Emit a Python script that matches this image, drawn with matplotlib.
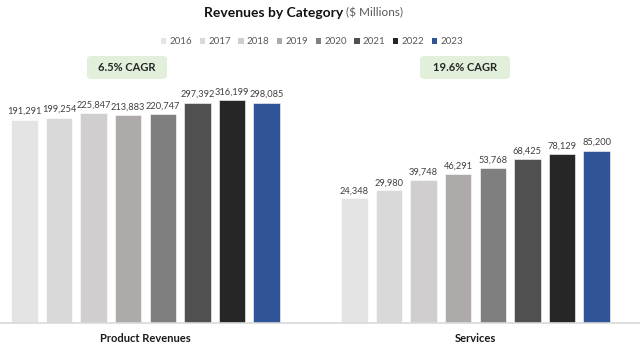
import numpy as np
import matplotlib.pyplot as plt
from matplotlib.patches import FancyBboxPatch, Patch

plt.rcParams['font.family'] = ['Lato', 'DejaVu Sans']

# data
categories = ["Product Revenues", "Services"]
years = ["2016", "2017", "2018", "2019", "2020", "2021", "2022", "2023"]
product = [191291, 199254, 225847, 213883, 220747, 297392, 316199, 298085]
services = [24348, 29980, 39748, 46291, 53768, 68425, 78129, 85200]
cagr = ["6.5% CAGR", "19.6% CAGR"]
colors = ["#E4E4E4", "#D9D9D9", "#D0CECE", "#AEAAAA", "#7F7F7F",
          "#505050", "#262626", "#2F5597"]

W, H = 640, 346
fig = plt.figure(figsize=(W / 100, H / 100), dpi=100)

# axes: baseline at y=323 px, top at y=56 px, full width
ax = fig.add_axes([0, (H - 323) / H, 1, (323 - 56) / H])
ax.set_yscale("log")
ax.set_ylim(1000, 1e6)
ax.set_xlim(-145.5 / 330, 1 + 164.5 / 330)

pitch = 34.6 / 330
width = 26.5 / 330
series = np.array([product, services])
xc = np.arange(len(categories))

for i, yr in enumerate(years):
    xs = xc + (i - 3.5) * pitch
    ax.bar(xs, series[:, i], width=width, bottom=1000,
           color=colors[i], edgecolor="white", linewidth=0.4, label=yr)
    for x, v in zip(xs, series[:, i]):
        ax.annotate(f"{v:,}", (x, v), xytext=(0, 3), textcoords="offset points",
                    ha="center", va="bottom", fontsize=6.7, color="#404040")

for s in ["top", "right", "left"]:
    ax.spines[s].set_visible(False)
ax.spines["bottom"].set_color("#D9D9D9")
ax.spines["bottom"].set_linewidth(1.2)
ax.set_yticks([])
ax.set_xticks([])
ax.yaxis.set_minor_locator(plt.NullLocator())

# category labels
for x, c in zip([145.5, 475.5], categories):
    fig.text(x / W, 1 - 339 / H, c, ha="center", va="center",
             fontsize=8, fontweight="bold", color="#1a1a1a")

# CAGR boxes
for (x0, x1), t in zip([(87, 167), (420, 510)], cagr):
    box = FancyBboxPatch((x0 / W, 1 - 79 / H), (x1 - x0) / W, 23 / H,
                         boxstyle="round,pad=0,rounding_size=0.008",
                         transform=fig.transFigure, facecolor="#E2EFDA",
                         edgecolor="none")
    fig.patches.append(box)
    fig.text((x0 + x1) / 2 / W, 1 - 67.5 / H, t, ha="center", va="center",
             fontsize=8, fontweight="bold", color="#262626")

# title
fig.text(343 / W, 1 - 13 / H, "Revenues by Category", ha="right", va="center",
         fontsize=10, fontweight="bold", color="#111111")
fig.text(346 / W, 1 - 13 / H, "($ Millions)", ha="left", va="center",
         fontsize=8.5, color="#595959")

# legend
handles = [Patch(facecolor=c, edgecolor="none") for c in colors]
fig.legend(handles, years, loc="center", bbox_to_anchor=(312 / W, 1 - 42 / H),
           ncol=8, frameon=False, fontsize=7, handlelength=0.55,
           handleheight=0.55, handletextpad=0.35, columnspacing=0.75,
           labelcolor="#595959")

fig.savefig("out.png", dpi=100)
